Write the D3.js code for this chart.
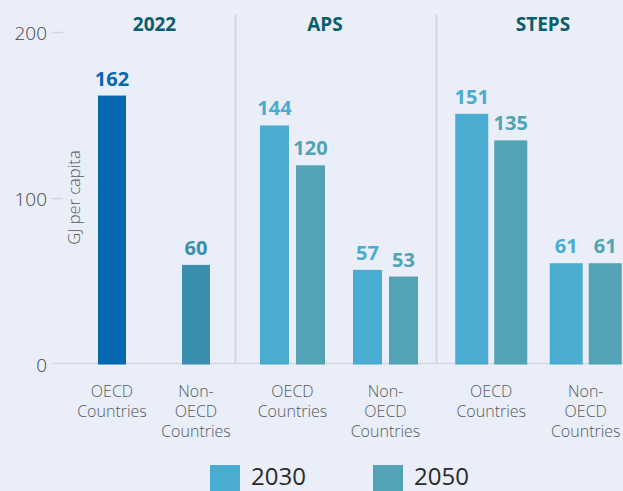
<!DOCTYPE html>
<html>
<head>
<meta charset="utf-8">
<script src="https://cdn.jsdelivr.net/npm/d3@7"></script>
<style>
  html, body { margin: 0; padding: 0; background: #e9eef8; }
  svg { display: block; font-family: 'Open Sans', 'DejaVu Sans', sans-serif; }
</style>
</head>
<body>
<div id="chart"></div>
<script>
// data
const panels = ['2022', 'APS', 'STEPS'];
const categories = ['OECD Countries', 'Non-OECD Countries'];
const series = ['2030', '2050'];
const values2022 = [162, 60];
const valuesAPS = [[144, 120], [57, 53]];
const valuesSTEPS = [[151, 135], [61, 61]];
const yTicks = [0, 100, 200];
const catLabels = [['OECD', 'Countries'], ['Non-', 'OECD', 'Countries']];

var drawChart = function () {
	'use strict';
	const width = 623, height = 491;
	const bg = '#e9eef8';
	const titleColor = '#0b5d6b';
	const axisColor = '#d3d7df';
	const textGrey = '#555a60';
	const col2022 = ['#0568b0', '#3a8fae'];
	const colSeries = { '2030': '#4aacd0', '2050': '#51a3b5' };

	const svg = d3.select('#chart').append('svg')
		.attr('width', width)
		.attr('height', height);
	svg.append('rect').attr('width', width).attr('height', height).attr('fill', bg);

	const y = d3.scaleLinear().domain([0, 200]).range([364.5, 32.5]);

	// layout of each panel (x range of the category band, bar width, gap between bars)
	const layout = {
		'2022': { range: [70, 238], bw: 28, gap: 0, titleX: 154.5 },
		'APS': { range: [246, 432], bw: 29, gap: 7, titleX: 325 },
		'STEPS': { range: [444, 633], bw: 33, gap: 6, titleX: 543 }
	};
	const dividers = [235.5, 436.5];

	// axis ticks
	const ticks = svg.append('g');
	yTicks.forEach(function (t) {
		ticks.append('text')
			.attr('x', 47).attr('y', y(t) + 7)
			.attr('text-anchor', 'end')
			.style('font-size', '19px').style('font-weight', 300)
			.attr('fill', '#444')
			.text(t);
		if (t > 0) {
			ticks.append('line')
				.attr('x1', 52).attr('x2', 63)
				.attr('y1', y(t)).attr('y2', y(t))
				.attr('stroke', axisColor).attr('stroke-width', 1.5);
		}
	});
	svg.append('line')
		.attr('x1', 52).attr('x2', width)
		.attr('y1', 363.5).attr('y2', 363.5)
		.attr('stroke', axisColor).attr('stroke-width', 1.5);

	// dividers
	dividers.forEach(function (dx) {
		svg.append('line')
			.attr('x1', dx).attr('x2', dx)
			.attr('y1', 15).attr('y2', 363)
			.attr('stroke', axisColor).attr('stroke-width', 2);
	});

	// y axis title
	svg.append('text')
		.attr('transform', 'translate(79.5,197.5) rotate(-90)')
		.attr('text-anchor', 'middle')
		.style('font-size', '16.5px').style('font-weight', 300)
		.attr('fill', textGrey)
		.text('GJ per capita');

	function drawBar(g, x0, bw, v, color) {
		g.append('rect')
			.attr('x', x0).attr('width', bw)
			.attr('y', y(v)).attr('height', y(0) - y(v))
			.attr('fill', color);
		g.append('text')
			.attr('x', x0 + bw / 2).attr('y', y(v) - 10)
			.attr('text-anchor', 'middle')
			.style('font-size', '20px').style('font-weight', 700)
			.attr('fill', color)
			.text(v);
	}

	panels.forEach(function (p) {
		const lay = layout[p];
		const g = svg.append('g');
		const x0 = d3.scaleBand().domain(categories).range(lay.range);

		g.append('text')
			.attr('x', lay.titleX).attr('y', 31)
			.attr('text-anchor', 'middle')
			.style('font-size', '19px').style('font-weight', 700)
			.attr('fill', titleColor)
			.text(p);

		categories.forEach(function (c, i) {
			const cx = x0(c) + x0.bandwidth() / 2;
			if (p === '2022') {
				drawBar(g, cx - lay.bw / 2, lay.bw, values2022[i], col2022[i]);
			} else {
				const vals = p === 'APS' ? valuesAPS[i] : valuesSTEPS[i];
				const gw = 2 * lay.bw + lay.gap;
				const x1 = d3.scaleBand().domain(series)
					.range([cx - gw / 2, cx + gw / 2])
					.paddingInner(lay.gap / (lay.bw + lay.gap));
				series.forEach(function (s, j) {
					drawBar(g, x1(s), x1.bandwidth(), vals[j], colSeries[s]);
				});
			}
			// one text per label line
			catLabels[i].forEach(function (line, k) {
				g.append('text')
					.attr('x', cx).attr('y', 397 + k * 20)
					.attr('text-anchor', 'middle')
					.style('font-size', '16px').style('font-weight', 300)
					.attr('fill', textGrey)
					.text(line);
			});
		});
	});

	// legend
	const legX = [210, 373];
	series.forEach(function (s, i) {
		svg.append('rect')
			.attr('x', legX[i]).attr('y', 465)
			.attr('width', 30).attr('height', 30)
			.attr('fill', colSeries[s]);
		svg.append('text')
			.attr('x', legX[i] + 41).attr('y', 485)
			.style('font-size', '24px').style('font-weight', 400)
			.attr('fill', '#2a2a2a')
			.text(s);
	});
};
drawChart();
</script>
</body>
</html>
